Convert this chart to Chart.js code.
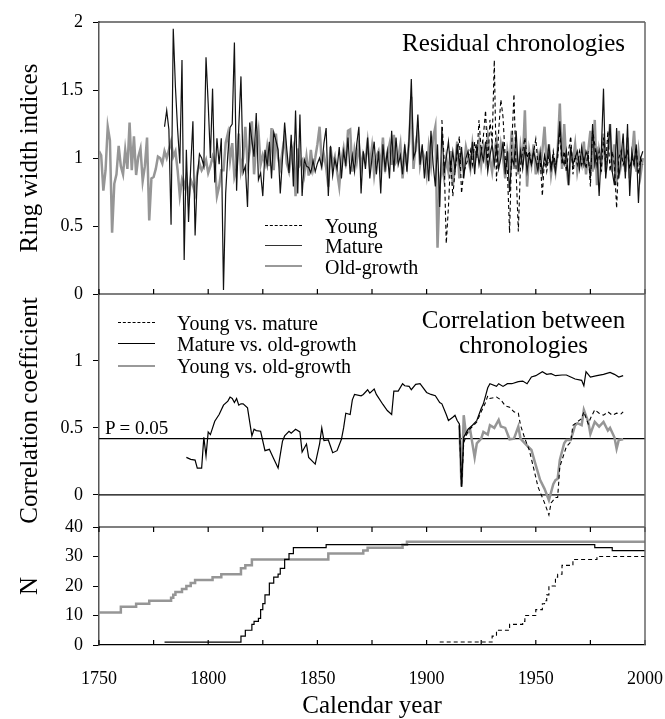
<!DOCTYPE html>
<html>
<head>
<meta charset="utf-8">
<script src="https://cdn.jsdelivr.net/npm/chart.js@4"></script>
<style>
  body { margin: 0; background: #fff; }
  #wrap { position: relative; width: 665px; height: 719px; font-family: "Liberation Serif", Tinos, "Times New Roman", "DejaVu Serif", serif; color: #000; }
  #chart { position: absolute; left: 0; top: 0; }
  .lbl { position: absolute; white-space: nowrap; line-height: 1; }
  .key { position: absolute; width: 37px; height: 0; }
</style>
</head>
<body>
<div id="wrap">
  <canvas id="chart" width="665" height="719"></canvas>

  <div class="lbl" style="right:40px; top:30px; font-size:25px;">Residual chronologies</div>
  <div class="key" style="left:265px; top:225px; border-top:1.3px dashed #000;"></div>
  <div class="key" style="left:265px; top:245px; border-top:1.5px solid #333;"></div>
  <div class="key" style="left:265px; top:265px; border-top:2.5px solid #999;"></div>
  <div class="lbl" style="left:325px; top:216px; font-size:20px;">Young</div>
  <div class="lbl" style="left:325px; top:236px; font-size:20px;">Mature</div>
  <div class="lbl" style="left:325px; top:257px; font-size:20px;">Old-growth</div>

  <div class="lbl" style="left:420px; top:307px; width:207px; text-align:center; font-size:25px;">Correlation between</div>
  <div class="lbl" style="left:420px; top:332px; width:207px; text-align:center; font-size:25px;">chronologies</div>
  <div class="key" style="left:118px; top:322px; border-top:1.3px dashed #000;"></div>
  <div class="key" style="left:118px; top:343px; border-top:1.3px solid #000;"></div>
  <div class="key" style="left:118px; top:365px; border-top:2.5px solid #999;"></div>
  <div class="lbl" style="left:177px; top:313px; font-size:20px;">Young vs. mature</div>
  <div class="lbl" style="left:177px; top:334px; font-size:20px;">Mature vs. old-growth</div>
  <div class="lbl" style="left:177px; top:356px; font-size:20px;">Young vs. old-growth</div>
  <div class="lbl" style="left:105px; top:418px; font-size:19px;">P = 0.05</div>
</div>

<script>
// ---- residual ring width chronologies (one value per year) ----
const oldGrowthStart = 1750;
const oldGrowthRing = [
  1.05, 1.02, 0.76, 0.91, 1.23, 1.13, 0.45, 0.81, 0.88, 1.09,
  0.94, 0.88, 1.06, 0.92, 1.26, 0.91, 1.16, 0.875, 1.01, 1.07,
  0.83, 0.94, 1.15, 0.54, 0.85, 0.86, 0.92, 1.01, 1.0, 0.96,
  1.05, 1.0, 1.06, 1.12, 1.01, 1.05, 0.91, 0.72, 0.84, 0.79,
  0.86, 0.69, 0.84, 0.80, 0.74, 0.89, 0.96, 0.91, 0.94, 0.985,
  0.89, 0.94, 1.01, 0.96, 0.72, 0.79, 0.91, 0.91, 1.11, 1.18,
  0.985, 1.11, 0.86, 0.92, 1.18, 0.91, 1.0, 1.23, 0.95, 1.05,
  1.27, 0.88, 1.1, 1.2, 0.95, 1.02, 0.96, 1.08, 0.94, 1.22,
  0.91, 1.18, 1.0, 0.93, 1.05, 1.15, 0.96, 0.9, 1.02, 1.08,
  0.72, 1.07, 0.95, 0.98, 0.88, 1.01, 0.87, 1.06, 0.92, 1.0,
  1.1, 1.23, 0.96, 1.02, 0.93, 0.79, 1.08, 0.95, 1.01, 0.9,
  0.79, 0.98, 1.07, 0.94, 1.2, 1.21, 0.9, 1.06, 0.97, 1.1,
  0.92, 1.03, 0.98, 1.12, 0.95, 1.08, 0.88, 1.01, 1.05, 0.93,
  1.15, 0.9, 1.02, 1.1, 0.95, 1.17, 0.97, 1.0, 1.1, 0.85,
  1.05, 0.95, 1.12, 1.45, 0.92, 1.1, 1.2, 0.95, 1.05, 1.0,
  0.88, 1.08, 0.95, 1.15, 1.23, 0.34, 0.8, 0.95, 0.85, 1.0,
  0.9, 1.05, 0.8, 0.95, 1.12, 0.85, 1.02, 0.93, 1.08, 1.0,
  0.92, 1.1, 0.97, 1.05, 1.12, 0.95, 1.08, 0.98, 1.15, 1.0,
  0.9, 1.05, 1.13, 0.95, 1.1, 1.0, 0.85, 1.05, 0.95, 1.2,
  0.92, 1.05, 0.88, 1.08, 0.95, 1.35, 0.79, 1.05, 0.95, 1.1,
  0.88, 1.02, 0.93, 1.05, 1.23, 0.95, 1.1, 0.88, 1.0, 0.9,
  1.05, 1.4, 0.92, 1.25, 0.95, 0.8, 1.05, 0.98, 1.1, 0.9,
  1.0, 0.95, 1.12, 0.88, 1.05, 1.2, 0.9, 1.28, 0.8, 1.05,
  0.95, 1.18, 0.9, 1.05, 1.25, 0.9, 1.1, 0.8, 1.2, 0.95,
  1.05, 0.9, 1.15, 0.85, 1.0, 1.2, 0.9, 1.05, 0.88, 1.0
];

const matureStart = 1780;
const matureRing = [
  1.23, 1.35, 1.21, 0.51, 1.95, 1.52, 1.21, 0.96, 1.72, 0.25,
  1.06, 0.53, 0.94, 1.27, 0.43, 0.86, 1.03, 1.0, 0.94, 1.74,
  1.40, 1.0, 1.51, 0.82, 1.145, 0.955, 1.145, 0.03, 0.74, 1.03,
  1.225, 1.25, 1.85, 0.76, 1.23, 1.60, 0.89, 0.94, 0.64, 1.26,
  1.13, 1.01, 1.33, 0.84, 0.89, 0.72, 1.06, 0.94, 1.12, 0.85,
  1.19, 1.13, 1.06, 0.74, 0.99, 1.26, 1.06, 0.89, 1.17, 0.79,
  1.35, 0.74, 1.32, 0.72, 0.99, 0.94, 0.93, 0.89, 0.98, 0.90,
  0.96, 1.0, 0.93, 1.11, 1.22, 0.72, 1.09, 0.87, 0.99, 0.92,
  1.08, 0.85, 1.05, 0.95, 1.15, 0.88, 1.02, 0.9, 1.1, 1.23,
  0.74, 1.05, 0.92, 1.15, 0.85, 1.0, 1.12, 0.88, 1.05, 0.74,
  1.1, 0.92, 1.05, 0.85, 1.2, 0.9, 1.15, 0.95, 1.02, 0.88,
  1.1, 0.9, 1.15, 1.58, 1.0, 1.05, 1.32, 0.95, 1.1, 0.85,
  1.05, 0.83, 1.2, 0.95, 0.79, 1.1, 0.64, 1.23, 0.9, 1.0,
  1.12, 0.92, 1.05, 0.9, 1.1, 0.95, 1.08, 0.85, 1.0, 1.05,
  0.93, 1.12, 0.88, 1.1, 0.95, 1.05, 0.98, 1.12, 0.9, 1.02,
  1.1, 0.95, 1.08, 0.92, 1.0, 1.12, 0.88, 1.05, 0.75, 1.0,
  0.95, 1.2, 0.9, 1.05, 0.92, 1.08, 0.9, 1.02, 0.95, 1.05,
  0.98, 0.9, 1.05, 0.88, 1.02, 0.95, 1.1, 0.92, 1.0, 0.9,
  1.05, 1.27, 1.0, 0.95, 1.05, 0.8, 1.08, 0.95, 1.0, 1.05,
  0.92, 1.08, 0.95, 1.05, 1.0, 0.85, 1.25, 0.95, 1.05, 0.72,
  1.05, 1.51, 0.85, 1.02, 1.25, 0.9, 0.8, 1.22, 0.85, 1.0,
  1.18, 0.85, 1.25, 0.72, 1.05, 0.95, 1.1, 0.67, 1.0, 1.05
];

const youngStart = 1907;
const youngRing = [
  1.28, 1.0, 0.37,
  0.64, 0.99, 0.72, 0.9, 1.03, 1.16, 0.74, 0.9, 0.94, 1.0,
  1.06, 0.95, 1.12, 1.0, 1.28, 1.05, 1.16, 1.35, 0.94, 1.28,
  1.1, 1.72, 0.83, 1.2, 1.43, 1.3, 1.0, 0.9, 0.45, 1.1,
  1.47, 0.9, 0.46, 0.95, 1.05, 1.15, 1.0, 1.05, 0.95, 1.05,
  1.14, 0.95, 1.0, 0.72, 1.0, 0.9, 1.02, 0.92, 1.05, 0.95,
  1.0, 1.2, 0.95, 1.05, 0.9, 1.05, 1.16, 0.88, 1.02, 0.95,
  1.05, 0.95, 1.0, 0.92, 1.05, 0.79, 1.2, 1.1, 0.95, 1.05,
  0.9, 1.15, 0.95, 1.2, 0.9, 1.05, 0.95, 0.63, 1.0, 1.05,
  0.95, 1.0, 1.05, 0.92, 1.0, 0.95, 1.08, 0.88, 1.0, 0.95
];

// ---- running correlations between chronologies ----
const matOldYears = [1790, 1792, 1794, 1795, 1797, 1798, 1799, 1800, 1801, 1803, 1805, 1807, 1809, 1810, 1811, 1812, 1813, 1814, 1815, 1816, 1818, 1820, 1821, 1822, 1824, 1826, 1828, 1830, 1832, 1833, 1834, 1835, 1837, 1838, 1840, 1842, 1843, 1845, 1846, 1849, 1851, 1852, 1853, 1855, 1857, 1859, 1861, 1862, 1863, 1865, 1866, 1867, 1870, 1871, 1873, 1874, 1876, 1877, 1880, 1882, 1884, 1885, 1887, 1889, 1890, 1892, 1893, 1895, 1897, 1900, 1902, 1904, 1906, 1907, 1909, 1910, 1912, 1913, 1914, 1915, 1916, 1917, 1919, 1921, 1923, 1925, 1926, 1928, 1929, 1932, 1933, 1935, 1937, 1939, 1942, 1944, 1946, 1948, 1950, 1953, 1955, 1957, 1959, 1962, 1964, 1966, 1968, 1971, 1972, 1973, 1975, 1978, 1981, 1984, 1986, 1988, 1990];
const matOldR = [0.28, 0.265, 0.26, 0.2, 0.2, 0.43, 0.29, 0.47, 0.45, 0.55, 0.6, 0.67, 0.7, 0.73, 0.72, 0.69, 0.72, 0.67, 0.68, 0.68, 0.65, 0.44, 0.49, 0.48, 0.475, 0.33, 0.34, 0.27, 0.2, 0.3, 0.4, 0.44, 0.475, 0.46, 0.49, 0.47, 0.32, 0.38, 0.28, 0.23, 0.38, 0.5, 0.405, 0.41, 0.315, 0.33, 0.415, 0.5, 0.61, 0.6, 0.71, 0.75, 0.74, 0.75, 0.785, 0.76, 0.79, 0.75, 0.675, 0.63, 0.6, 0.775, 0.775, 0.83, 0.815, 0.81, 0.785, 0.825, 0.83, 0.765, 0.75, 0.74, 0.69, 0.68, 0.6, 0.555, 0.58, 0.595, 0.555, 0.53, 0.06, 0.43, 0.49, 0.52, 0.555, 0.645, 0.68, 0.8, 0.83, 0.81, 0.83, 0.81, 0.83, 0.83, 0.845, 0.85, 0.83, 0.88, 0.89, 0.92, 0.9, 0.905, 0.89, 0.895, 0.895, 0.88, 0.865, 0.855, 0.815, 0.92, 0.88, 0.89, 0.9, 0.915, 0.9, 0.88, 0.89];

const youngMatYears = [1915, 1916, 1917, 1919, 1921, 1923, 1925, 1927, 1928, 1929, 1932, 1934, 1936, 1938, 1940, 1942, 1943, 1945, 1947, 1949, 1951, 1954, 1956, 1957, 1959, 1960, 1961, 1963, 1964, 1966, 1967, 1969, 1971, 1972, 1974, 1975, 1977, 1979, 1981, 1983, 1985, 1987, 1989, 1990];
const youngMatR = [0.51, 0.06, 0.39, 0.48, 0.51, 0.545, 0.62, 0.69, 0.74, 0.72, 0.73, 0.71, 0.665, 0.655, 0.62, 0.61, 0.52, 0.42, 0.335, 0.2, 0.06, -0.06, -0.15, -0.06, -0.02, -0.02, 0.21, 0.31, 0.36, 0.395, 0.52, 0.545, 0.57, 0.62, 0.53, 0.57, 0.635, 0.61, 0.595, 0.62, 0.595, 0.61, 0.605, 0.62];

const youngOldYears = [1915, 1916, 1917, 1918, 1920, 1922, 1923, 1925, 1926, 1928, 1929, 1931, 1933, 1934, 1936, 1938, 1940, 1942, 1943, 1945, 1948, 1950, 1952, 1954, 1956, 1958, 1959, 1960, 1961, 1963, 1964, 1966, 1968, 1969, 1971, 1972, 1974, 1975, 1977, 1979, 1981, 1983, 1984, 1986, 1987, 1988, 1990];
const youngOldR = [0.52, 0.06, 0.595, 0.455, 0.48, 0.28, 0.385, 0.42, 0.47, 0.45, 0.52, 0.5, 0.56, 0.51, 0.5, 0.415, 0.42, 0.51, 0.42, 0.385, 0.335, 0.22, 0.11, 0.045, -0.04, 0.08, 0.11, 0.12, 0.26, 0.385, 0.41, 0.41, 0.52, 0.535, 0.52, 0.635, 0.545, 0.455, 0.545, 0.51, 0.545, 0.48, 0.5, 0.43, 0.345, 0.41, 0.415];

const pLevel = 0.42;   // P = 0.05 significance level

// ---- sample depth (year where count starts, count) ----
const oldNYears = [1750, 1760, 1767, 1773, 1783, 1784, 1785, 1788, 1790, 1792, 1794, 1802, 1806, 1815, 1817, 1820, 1855, 1871, 1873, 1889, 1891, 2000];
const oldN = [11, 13, 14, 15, 16, 17, 18, 19, 20, 21, 22, 23, 24, 26, 27, 29, 31, 32, 33, 34, 35, 35];
const matureNYears = [1780, 1815, 1817, 1820, 1821, 1823, 1824, 1825, 1826, 1828, 1830, 1832, 1833, 1835, 1837, 1839, 1854, 1977, 1985, 2000];
const matureN = [1, 3, 5, 7, 8, 9, 12, 14, 17, 21, 23, 24, 26, 29, 31, 33, 34, 33, 32, 32];
const youngNYears = [1906, 1930, 1932, 1938, 1944, 1945, 1950, 1953, 1954, 1955, 1956, 1959, 1960, 1962, 1967, 1978, 2000];
const youngN = [1, 3, 5, 7, 8, 10, 12, 14, 15, 17, 20, 23, 24, 27, 29, 30, 30];

const ringTicks = [0, 0.5, 1, 1.5, 2];
const corrTicks = [0, 0.5, 1];
const nTicks = [0, 10, 20, 30, 40];
const yearMin = 1750, yearMax = 2000;

const serif = '"Liberation Serif", Tinos, "Times New Roman", "DejaVu Serif", serif';
Chart.defaults.font.family = serif;
Chart.defaults.color = '#000';

const seq = (start, arr) => arr.map((v, i) => ({ x: start + i, y: v }));
const pairs = (xs, ys) => xs.map((x, i) => ({ x: x, y: ys[i] }));

const GRAY = '#969696';
const line = (data, axis, color, width, dash, order, stepped) => ({
  data: data,
  yAxisID: axis,
  borderColor: color,
  borderWidth: width,
  borderDash: dash || [],
  pointRadius: 0,
  tension: 0,
  fill: false,
  order: order,
  stepped: stepped || false
});

function yAxis(title, min, max, ticks, weight, stackWeight) {
  return {
    type: 'linear',
    position: 'left',
    stack: 'panels',
    stackWeight: stackWeight,
    weight: weight,
    min: min,
    max: max,
    afterBuildTicks: s => { s.ticks = ticks.map(v => ({ value: v })); },
    afterFit: s => { s.width = 99; },
    ticks: { font: { size: 18 }, padding: 10, autoSkip: false, callback: v => String(v) },
    grid: { drawOnChartArea: false, drawTicks: true, tickLength: 6, color: '#000' },
    border: { display: true, color: '#555', width: 1.5 },
    title: { display: true, text: title, font: { size: 25, lineHeight: 1 }, padding: { top: 17.5, bottom: 0 } }
  };
}

// panel frames and inward tick marks
const framePlugin = {
  id: 'frame',
  afterDatasetsDraw(chart) {
    const { ctx, chartArea: a, scales } = chart;
    const xs = scales.x;
    ctx.save();
    ctx.strokeStyle = '#000';
    ctx.lineWidth = 1.2;
    ctx.beginPath();
    ctx.moveTo(a.left, a.top); ctx.lineTo(a.right, a.top);
    ctx.moveTo(a.left, scales.yRing.bottom); ctx.lineTo(a.right, scales.yRing.bottom);
    ctx.moveTo(a.left, scales.yN.top); ctx.lineTo(a.right, scales.yN.top);
    for (let yr = yearMin; yr <= yearMax; yr += 25) {
      const px = xs.getPixelForValue(yr);
      ctx.moveTo(px, scales.yRing.bottom); ctx.lineTo(px, scales.yRing.bottom - 5);
      ctx.moveTo(px, scales.yN.top); ctx.lineTo(px, scales.yN.top + 5);
      ctx.moveTo(px, a.bottom); ctx.lineTo(px, a.bottom - 5);
    }
    ctx.stroke();
    ctx.strokeStyle = '#666';
    ctx.lineWidth = 1.5;
    ctx.beginPath();
    ctx.moveTo(a.right, a.top); ctx.lineTo(a.right, a.bottom);
    ctx.stroke();
    ctx.restore();
  }
};

new Chart(document.getElementById('chart'), {
  type: 'line',
  data: {
    datasets: [
      line(seq(youngStart, youngRing), 'yRing', '#000', 1.1, [4, 3], 0),
      line(seq(matureStart, matureRing), 'yRing', '#111', 1.2, null, 1),
      line(seq(oldGrowthStart, oldGrowthRing), 'yRing', GRAY, 2.5, null, 2),

      line(pairs([yearMin, yearMax], [pLevel, pLevel]), 'yCorr', '#000', 1.2, null, 3),
      line(pairs([yearMin, yearMax], [0, 0]), 'yCorr', '#000', 1.2, null, 3),
      line(pairs(youngMatYears, youngMatR), 'yCorr', '#000', 1.1, [4, 3], 0),
      line(pairs(matOldYears, matOldR), 'yCorr', '#000', 1.2, null, 1),
      line(pairs(youngOldYears, youngOldR), 'yCorr', GRAY, 2.5, null, 2),

      line(pairs(youngNYears, youngN), 'yN', '#000', 1.1, [4, 3], 0, 'before'),
      line(pairs(matureNYears, matureN), 'yN', '#000', 1.2, null, 1, 'before'),
      line(pairs(oldNYears, oldN), 'yN', GRAY, 2.5, null, 2, 'before')
    ]
  },
  options: {
    responsive: false,
    animation: false,
    layout: { padding: { top: 22, right: 20, bottom: 0, left: 0 } },
    plugins: { legend: { display: false }, tooltip: { enabled: false } },
    scales: {
      x: {
        type: 'linear',
        min: yearMin,
        max: yearMax,
        afterFit: s => { s.height = 74; },
        ticks: { stepSize: 50, font: { size: 18 }, padding: 0, callback: v => String(v) },
        grid: { drawOnChartArea: false, drawTicks: true, tickLength: 23, color: 'rgba(0,0,0,0)' },
        border: { display: true, color: '#000', width: 1.2 },
        title: { display: true, text: 'Calendar year', font: { size: 25, lineHeight: 1 }, padding: { top: 0, bottom: 0 } }
      },
      yN: yAxis('N', 0, 40, nTicks, 1, 118),
      yCorr: yAxis('Correlation coefficient', -0.24, 1.5, corrTicks, 2, 233),
      yRing: yAxis('Ring width indices', 0, 2, ringTicks, 3, 272)
    }
  },
  plugins: [framePlugin]
});
</script>
</body>
</html>
